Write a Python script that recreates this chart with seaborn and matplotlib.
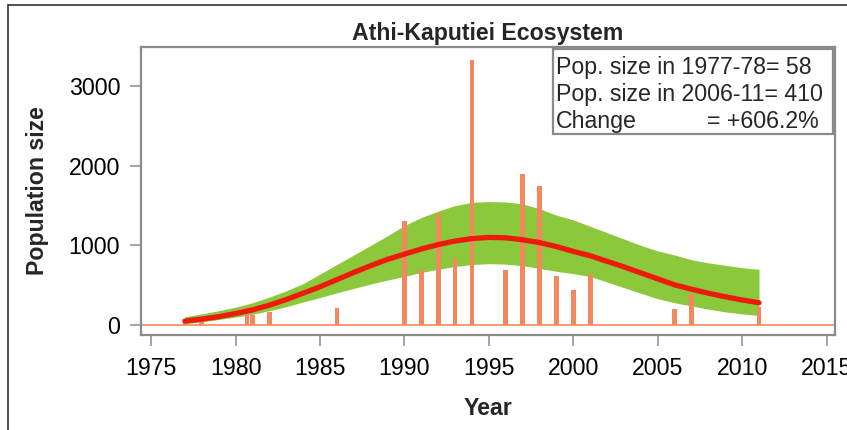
import matplotlib
matplotlib.use("Agg")
import matplotlib.pyplot as plt
import seaborn as sns
import pandas as pd
from matplotlib.patches import Rectangle
from matplotlib.lines import Line2D

# ---- data ----
bar_years = [1977, 1978, 1980.67, 1981, 1982, 1986, 1990, 1991, 1992, 1993, 1994,
             1996, 1997, 1998, 1999, 2000, 2001, 2006, 2007, 2011]
bar_counts = [80, 35, 230, 130, 170, 215, 1300, 690, 1395, 845, 3333,
              690, 1896, 1750, 612, 437, 646, 196, 390, 230]

fit_years = list(range(1977, 2012))
fit_mean = [50, 75, 105, 145, 190, 250, 320, 400, 480, 570, 660, 745, 825, 890,
            955, 1010, 1055, 1085, 1100, 1095, 1070, 1035, 985, 925, 870, 800,
            730, 655, 580, 505, 450, 400, 355, 315, 280]
fit_upper = [105, 140, 180, 225, 280, 350, 430, 520, 640, 760, 880, 1000, 1120, 1250,
             1350, 1430, 1500, 1540, 1550, 1545, 1520, 1460, 1380, 1320, 1240, 1160,
             1080, 1000, 930, 880, 820, 780, 750, 720, 700]
fit_lower = [15, 40, 70, 100, 135, 180, 230, 290, 345, 405, 460, 515, 565, 610,
             660, 700, 735, 760, 770, 765, 745, 710, 675, 645, 610, 540, 470, 400,
             330, 280, 240, 200, 165, 140, 120]

title = "Athi-Kaputiei Ecosystem"
info_lines = ["Pop. size in 1977-78= 58", "Pop. size in 2006-11= 410"]
change_label = "Change"
change_value = "= +606.2%"
x_ticks = [1975, 1980, 1985, 1990, 1995, 2000, 2005, 2010, 2015]
y_ticks = [0, 1000, 2000, 3000]

# ---- style ----
sns.set_theme(style="white")
plt.rcParams['font.family'] = ['Liberation Sans', 'DejaVu Sans']

FS = 16.7
BAR = "#F5875E"
GREEN = "#8CC83C"
RED = "#EE1B0C"
GREY = "#8a8a8a"

fig = plt.figure(figsize=(8.47, 4.30), dpi=100)
ax = fig.add_axes([0.1665, 0.2209, 0.9858 - 0.1665, 0.8907 - 0.2209])

fit = pd.DataFrame({"Year": fit_years, "mean": fit_mean, "lo": fit_lower, "hi": fit_upper})

ax.axhline(0, color=BAR, lw=1.2, zorder=1)
ax.fill_between(fit["Year"], fit["lo"], fit["hi"], color=GREEN, lw=0, zorder=2)
ax.bar(bar_years, bar_counts, width=0.28, color=BAR, lw=0, zorder=3)
sns.lineplot(data=fit, x="Year", y="mean", color=RED, lw=3.8, ax=ax, zorder=4)

ax.set_xlim(1974.4, 2015.5)
ax.set_ylim(-125, 3490)
ax.set_xticks(x_ticks)
ax.set_yticks(y_ticks)
ax.tick_params(axis="both", direction="out", length=8, width=1.1, color=GREY,
               labelsize=FS, labelcolor="black", bottom=True, left=True)
ax.tick_params(axis="x", pad=8)
ax.tick_params(axis="y", pad=7)
for s in ax.spines.values():
    s.set_color(GREY)
    s.set_linewidth(1.6)

ax.set_xlabel("Year", fontsize=FS, fontweight="bold", labelpad=12)
ax.set_ylabel("Population size", fontsize=FS, fontweight="bold", labelpad=14)
ax.set_title(title, fontsize=FS, fontweight="bold", pad=5)

# info box
ax.add_patch(Rectangle((0.594, 0.698), 0.997 - 0.594, 0.993 - 0.698, transform=ax.transAxes,
                       facecolor="white", edgecolor=GREY, lw=1.6, zorder=5))
x0 = 0.598
for i, t in enumerate(info_lines):
    ax.text(x0, 0.928 - i * 0.094, t, transform=ax.transAxes, fontsize=FS,
            va="center", ha="left", zorder=6)
ax.text(x0, 0.928 - 2 * 0.094, change_label, transform=ax.transAxes, fontsize=FS,
        va="center", ha="left", zorder=6)
ax.text(0.977, 0.928 - 2 * 0.094, change_value, transform=ax.transAxes, fontsize=FS,
        va="center", ha="right", zorder=6)

# outer frame lines
fig.add_artist(Line2D([8 / 847, 1], [1 - 5 / 430, 1 - 5 / 430], color="#333333", lw=1.2))
fig.add_artist(Line2D([8 / 847, 8 / 847], [0, 1 - 5 / 430], color="#333333", lw=1.2))

fig.savefig("out.png", dpi=100)
